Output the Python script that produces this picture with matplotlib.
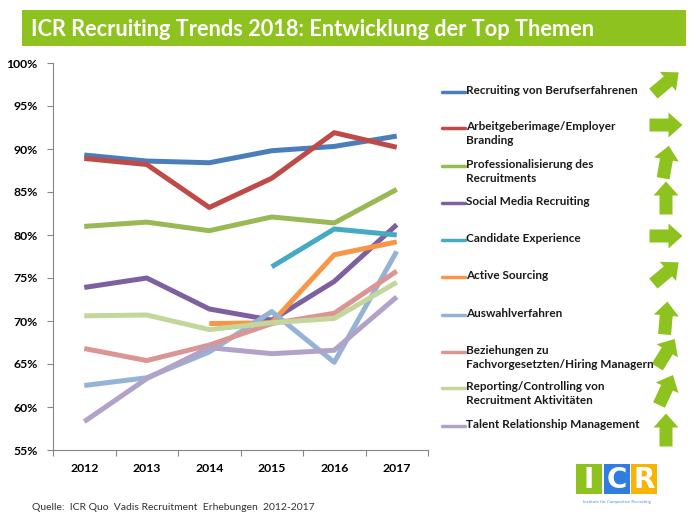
import numpy as np
import matplotlib
matplotlib.use("Agg")
import matplotlib.pyplot as plt
from matplotlib.patches import Rectangle, FancyArrow
from matplotlib.ticker import MultipleLocator, FuncFormatter

plt.rcParams["font.family"] = ["Lato", "DejaVu Sans"]

years = ["2012", "2013", "2014", "2015", "2016", "2017"]
nan = np.nan

labels = [
    "Recruiting von Berufserfahrenen",
    "Arbeitgeberimage/Employer\nBranding",
    "Professionalisierung des\nRecruitments",
    "Social Media Recruiting",
    "Candidate Experience",
    "Active Sourcing",
    "Auswahlverfahren",
    "Beziehungen zu\nFachvorgesetzten/Hiring Managern",
    "Reporting/Controlling von\nRecruitment Aktivitäten",
    "Talent Relationship Management",
]
berufserfahrene = [89.3, 88.6, 88.4, 89.8, 90.3, 91.5]
employer_branding = [88.9, 88.2, 83.2, 86.6, 91.9, 90.2]
professionalisierung = [81.0, 81.5, 80.5, 82.1, 81.4, 85.3]
social_media = [73.9, 75.0, 71.4, 70.1, 74.6, 81.2]
candidate_exp = [nan, nan, nan, 76.3, 80.7, 80.0]
active_sourcing = [nan, nan, 69.7, 69.8, 77.7, 79.2]
auswahlverfahren = [62.5, 63.4, 66.4, 71.1, 65.2, 78.1]
beziehungen = [66.8, 65.4, 67.2, 69.7, 70.9, 75.8]
reporting = [70.6, 70.7, 69.0, 69.8, 70.3, 74.5]
talent_rm = [58.3, 63.3, 66.9, 66.2, 66.6, 72.8]
series = [berufserfahrene, employer_branding, professionalisierung, social_media,
          candidate_exp, active_sourcing, auswahlverfahren, beziehungen, reporting, talent_rm]
colors = ["#4A7EBB", "#BE4B48", "#98B954", "#7D60A0", "#46AAC5",
          "#F79646", "#95B3D7", "#D99694", "#C3D69B", "#B3A2C7"]

# trend arrows next to legend (angle in degrees, 90 = up)
arrow_angles = [40, 0, 80, 90, 0, 40, 85, 58, 65, 90]
legend_y = [92, 128, 166, 203, 240, 277, 315, 352, 388, 426]
arrow_y = [83, 125, 162, 198, 236, 273, 318, 353, 390, 430]

W, H = 696, 517
fig = plt.figure(figsize=(W / 100, H / 100), dpi=100)
fig.patch.set_facecolor("white")

ax = fig.add_axes([53 / W, 1 - 450 / H, (428 - 53) / W, (450 - 63) / H])
x = np.arange(len(years))
for s, c in zip(series, colors):
    ax.plot(x, s, color=c, lw=3.6, solid_capstyle="butt", solid_joinstyle="round")
ax.set_xlim(-0.5, len(years) - 0.5)
ax.set_ylim(55, 100)
ax.yaxis.set_major_locator(MultipleLocator(5))
ax.yaxis.set_major_formatter(FuncFormatter(lambda v, p: f"{v:.0f}%"))
ax.set_xticks(np.arange(-0.5, len(years)), minor=False)
ax.set_xticklabels([])
ax.set_xticks(x, minor=True)
ax.set_xticklabels(years, minor=True)
ax.tick_params(axis="x", which="major", length=4, color="#868686", direction="out")
ax.tick_params(axis="x", which="minor", length=0, pad=9, labelsize=8.8)
ax.tick_params(axis="y", length=4, color="#868686", labelsize=8.8, pad=7)
for lab in ax.get_xticklabels(minor=True) + ax.get_yticklabels():
    lab.set_fontweight("bold")
for side in ["top", "right"]:
    ax.spines[side].set_visible(False)
for side in ["left", "bottom"]:
    ax.spines[side].set_color("#868686")

# overlay in pixel coordinates
ov = fig.add_axes([0, 0, 1, 1])
ov.set_xlim(0, W)
ov.set_ylim(H, 0)
ov.axis("off")
ov.patch.set_alpha(0)

ov.add_patch(Rectangle((22, 10), 664, 36, color="#8DC21F", lw=0))
ov.text(31, 29, "ICR Recruiting Trends 2018: Entwicklung der Top Themen", color="white",
        fontsize=15.7, fontweight="bold", va="center", ha="left")

for lab, c, ly in zip(labels, colors, legend_y):
    ov.plot([442, 465], [ly, ly], color=c, lw=2.5, solid_capstyle="round")
    ov.text(466, ly - 7, lab, fontsize=8.5, fontweight="bold", va="top", ha="left",
            color="#1a1a1a", linespacing=1.3)

for ang, ay in zip(arrow_angles, arrow_y):
    t = np.deg2rad(ang)
    dx, dy = np.cos(t), -np.sin(t)
    L = 33
    ov.add_patch(FancyArrow(666 - dx * L / 2, ay - dy * L / 2, dx * L, dy * L, width=13,
                            head_width=25, head_length=14, length_includes_head=True,
                            color="#8DC21F", lw=0))

# logo
for i, (ch, c) in enumerate(zip("ICR", ["#8DC21F", "#2F7DE1", "#F7B500"])):
    ov.add_patch(Rectangle((576 + i * 27.5, 464), 26, 30, color=c, lw=0))
    ov.text(576 + i * 27.5 + 13, 480, ch, color="white", fontsize=20, fontweight="bold",
            ha="center", va="center", family="DejaVu Sans")
ov.text(617, 502, "Institute for Competitive Recruiting", color="#5B8FD8", fontsize=3.2,
        ha="center", va="center")

ov.text(32, 507, "Quelle:  ICR Quo  Vadis Recruitment  Erhebungen  2012-2017", fontsize=7.5,
        color="#333333", va="center", ha="left")

fig.savefig("out.png", dpi=100)
